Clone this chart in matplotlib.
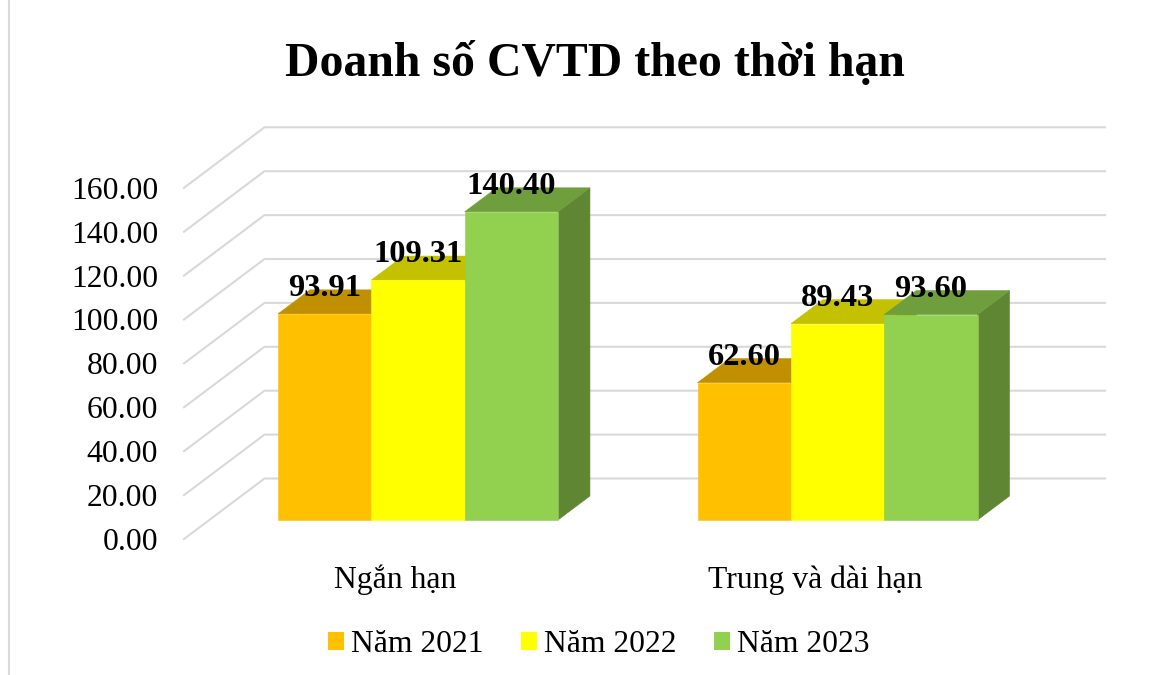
import matplotlib
matplotlib.use("Agg")
import matplotlib.pyplot as plt
from matplotlib.lines import Line2D
from matplotlib.patches import Patch

plt.rcParams["font.family"] = ["Liberation Serif", "DejaVu Serif"]

categories = ["Ngắn hạn", "Trung và dài hạn"]
series_names = ["Năm 2021", "Năm 2022", "Năm 2023"]
values_2021 = [93.91, 62.60]
values_2022 = [109.31, 89.43]
values_2023 = [140.40, 93.60]
axis_ticks = [0, 20, 40, 60, 80, 100, 120, 140, 160]

front_colors = ["#FFC000", "#FFFF00", "#92D050"]
top_colors = ["#C09000", "#C4C200", "#6F9E3D"]
side_colors = ["#A37A00", "#A3A300", "#5F8632"]
GRID = "#D9D9D9"

W, H = 1170, 675
X_UNIT = 419.6  # px per category
Y_UNIT = 2.195  # px per value
BASE_Y = 520
CENTER0 = 418
BAR_W = 93.3 / X_UNIT
DX, DY = 32 / X_UNIT, 24 / Y_UNIT  # bar depth
WALL_L = (184 - CENTER0) / X_UNIT
WALL_B = (264.5 - CENTER0) / X_UNIT
WALL_R = (1105 - CENTER0) / X_UNIT
FLOOR_F = -19 / Y_UNIT
FLOOR_B = 41.5 / Y_UNIT

fig = plt.figure(figsize=(W / 100, H / 100), dpi=100)
ax = fig.add_axes([0, 0, 1, 1])
ax.set_xlim(-CENTER0 / X_UNIT, (W - CENTER0) / X_UNIT)
ax.set_ylim(-(H - BASE_Y) / Y_UNIT, BASE_Y / Y_UNIT)
ax.axis("off")

# gridlines + value labels
for t in axis_ticks:
    ax.plot([WALL_L, WALL_B, WALL_R], [t + FLOOR_F, t + FLOOR_B, t + FLOOR_B],
            color=GRID, lw=1.5, solid_joinstyle="miter", zorder=1)
    ax.text(WALL_L - 26 / X_UNIT, t + FLOOR_F - 3.5 / Y_UNIT, f"{t:.2f}", ha="right", va="center",
            fontsize=22.8, color="black")

# bars
all_values = [values_2021, values_2022, values_2023]
for c in range(len(categories)):
    for s, vals in enumerate(all_values):
        v = vals[c]
        x0 = c + (s - 1.5) * BAR_W
        x1 = x0 + BAR_W
        ax.fill([x1, x1 + DX, x1 + DX, x1], [0, DY, v + DY, v],
                facecolor=side_colors[s], edgecolor=side_colors[s], lw=0.4, zorder=3)
        ax.fill([x0, x1, x1 + DX, x0 + DX], [v, v, v + DY, v + DY],
                facecolor=top_colors[s], edgecolor=top_colors[s], lw=0.4, zorder=3)
        ax.bar(x0, v, width=BAR_W, align="edge", color=front_colors[s],
               edgecolor=front_colors[s], lw=0.4, zorder=3)

# data labels on top of everything
for c in range(len(categories)):
    for s, vals in enumerate(all_values):
        x = c + (s - 1) * BAR_W
        ax.text(x, vals[c] + 18 / Y_UNIT, f"{vals[c]:.2f}", ha="center", va="baseline",
                fontsize=23.4, fontweight="bold", color="black", zorder=5)

# category labels
for c, name in enumerate(categories):
    ax.text(c - 22.5 / X_UNIT, -68 / Y_UNIT, name, ha="center", va="baseline",
            fontsize=22.8, color="black")

fig.text(595 / W, 1 - 76 / H, "Doanh số CVTD theo thời hạn", ha="center", va="baseline",
         fontsize=34.4, fontweight="bold", color="black")

handles = [Patch(facecolor=col, edgecolor="none") for col in front_colors]
fig.legend(handles, series_names, loc="center", bbox_to_anchor=(599 / W, 1 - 645 / H),
           ncol=3, frameon=False, fontsize=22.8, handlelength=0.51, handleheight=0.51,
           handletextpad=0.22, columnspacing=1.18, borderpad=0, borderaxespad=0)

# chart border on the left
fig.add_artist(Line2D([9 / W, 9 / W], [0, 1], color=GRID, lw=1.5))

fig.savefig("out.png", dpi=100)
